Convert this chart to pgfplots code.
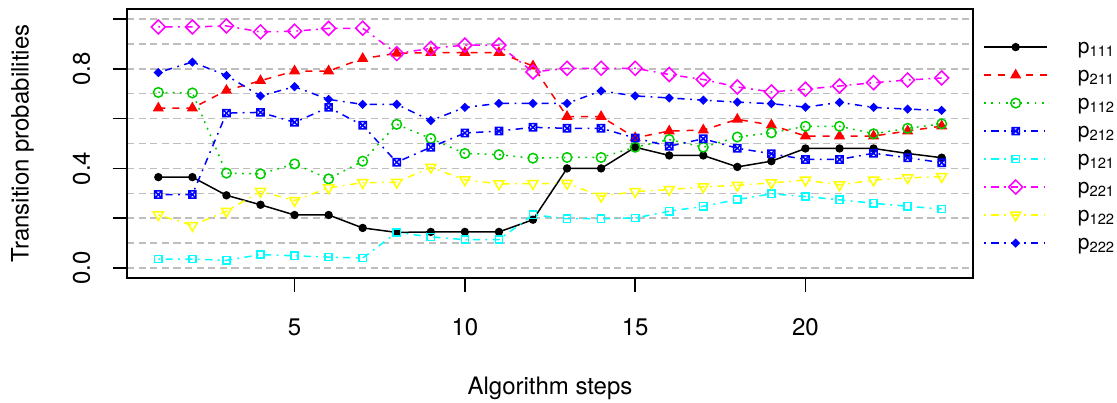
\documentclass[border=0pt]{standalone}
\usepackage{fontspec}
\setmainfont{TeX Gyre Heros}
\usepackage{pgfplots}
\pgfplotsset{compat=1.18}
\usepackage{pgfplotstable}

\definecolor{rgreen}{RGB}{0,205,0}
\definecolor{rcyan}{RGB}{0,255,255}
\definecolor{rmagenta}{RGB}{255,0,255}
\definecolor{ryellow}{RGB}{255,255,0}
\definecolor{rred}{RGB}{255,0,0}
\definecolor{rblue}{RGB}{0,0,255}
\definecolor{gridgray}{RGB}{190,190,190}

\pgfdeclareplotmark{boxtimes}{%
  \pgfpathrectangle{\pgfqpoint{-\pgfplotmarksize}{-\pgfplotmarksize}}{\pgfqpoint{2\pgfplotmarksize}{2\pgfplotmarksize}}%
  \pgfpathmoveto{\pgfqpoint{-\pgfplotmarksize}{-\pgfplotmarksize}}\pgfpathlineto{\pgfqpoint{\pgfplotmarksize}{\pgfplotmarksize}}%
  \pgfpathmoveto{\pgfqpoint{-\pgfplotmarksize}{\pgfplotmarksize}}\pgfpathlineto{\pgfqpoint{\pgfplotmarksize}{-\pgfplotmarksize}}%
  \pgfusepathqstroke}
\pgfdeclareplotmark{rdiamond}{%
  \pgfpathmoveto{\pgfqpoint{0pt}{\pgfplotmarksize}}%
  \pgfpathlineto{\pgfqpoint{\pgfplotmarksize}{0pt}}%
  \pgfpathlineto{\pgfqpoint{0pt}{-\pgfplotmarksize}}%
  \pgfpathlineto{\pgfqpoint{-\pgfplotmarksize}{0pt}}%
  \pgfpathclose\pgfusepathqstroke}
\pgfdeclareplotmark{rdiamond*}{%
  \pgfpathmoveto{\pgfqpoint{0pt}{\pgfplotmarksize}}%
  \pgfpathlineto{\pgfqpoint{\pgfplotmarksize}{0pt}}%
  \pgfpathlineto{\pgfqpoint{0pt}{-\pgfplotmarksize}}%
  \pgfpathlineto{\pgfqpoint{-\pgfplotmarksize}{0pt}}%
  \pgfpathclose\pgfusepathqfillstroke}

\pgfplotstableread{
x p111 p211 p112 p212 p121 p221 p122 p222
1  0.365 0.642 0.705 0.295 0.036 0.968 0.214 0.785
2  0.365 0.642 0.703 0.295 0.036 0.968 0.171 0.827
3  0.292 0.713 0.381 0.622 0.031 0.972 0.228 0.773
4  0.254 0.752 0.378 0.625 0.054 0.948 0.308 0.691
5  0.213 0.791 0.418 0.585 0.049 0.951 0.271 0.728
6  0.213 0.791 0.358 0.645 0.044 0.962 0.322 0.677
7  0.161 0.841 0.429 0.573 0.040 0.963 0.343 0.657
8  0.143 0.862 0.577 0.425 0.143 0.861 0.344 0.657
9  0.145 0.865 0.520 0.485 0.125 0.882 0.405 0.592
10 0.145 0.865 0.460 0.542 0.114 0.895 0.354 0.645
11 0.145 0.865 0.455 0.550 0.114 0.895 0.338 0.661
12 0.194 0.811 0.441 0.565 0.214 0.787 0.339 0.661
13 0.400 0.608 0.444 0.561 0.198 0.802 0.340 0.661
14 0.400 0.608 0.444 0.561 0.198 0.802 0.288 0.711
15 0.485 0.523 0.485 0.522 0.201 0.802 0.307 0.691
16 0.452 0.550 0.516 0.489 0.228 0.777 0.315 0.683
17 0.452 0.554 0.485 0.519 0.248 0.757 0.326 0.674
18 0.406 0.597 0.526 0.481 0.275 0.727 0.332 0.666
19 0.429 0.574 0.543 0.459 0.298 0.707 0.342 0.660
20 0.480 0.530 0.569 0.436 0.287 0.718 0.353 0.646
21 0.480 0.530 0.569 0.436 0.274 0.731 0.334 0.665
22 0.480 0.530 0.539 0.461 0.260 0.744 0.353 0.645
23 0.460 0.550 0.561 0.443 0.248 0.755 0.362 0.638
24 0.443 0.570 0.579 0.423 0.237 0.763 0.367 0.633
}\data

\begin{document}
\begin{tikzpicture}
\begin{axis}[
  at={(0,0)}, anchor=south west,
  scale only axis, width=423pt, height=134.5pt,
  xmin=0.08, xmax=24.92, ymin=-0.04, ymax=1.04,
  xtick={5,10,15,20}, xticklabels={5,10,15,20},
  ytick={0,0.2,0.4,0.6,0.8,1.0},
  yticklabels={0.0,,0.4,,0.8,},
  minor ytick={0.1,0.3,0.5,0.7,0.9},
  minor tick length=0pt,
  tick pos=left, tick align=outside, major tick length=7pt,
  tick style={black, line width=0.8pt},
  axis line style={line width=0.8pt},
  /pgf/number format/assume math mode=true,
  tick label style={font=\fontsize{12}{14}\selectfont},
  xticklabel style={anchor=base}, xticklabel shift=21.5pt,
  yticklabel style={rotate=90, anchor=base}, yticklabel shift=11.5pt,
  ymajorgrids, yminorgrids,
  major grid style={gridgray, line width=0.8pt, dash pattern=on 3.6pt off 2.2pt},
  minor grid style={gridgray, line width=0.8pt, dash pattern=on 3.6pt off 2.2pt},
  label style={font=\fontsize{12}{14}\selectfont},
  xlabel={Algorithm steps},
  ylabel={Transition probabilities},
  xlabel style={at={(axis description cs:0.5,-0.4312)}, anchor=base},
  ylabel style={at={(axis description cs:-0.1162,0.5)}, anchor=base},
  every axis plot/.append style={line width=0.75pt},
  legend image code/.code={\draw[mark repeat=2,mark phase=2] plot coordinates {(0pt,0pt) (15.75pt,0pt) (31.5pt,0pt)};},
  legend style={at={(1,1)}, anchor=north west, xshift=5pt, yshift=-11.85pt,
    draw=none, fill=none, inner sep=0pt, row sep=0pt, column sep=15pt,
    cells={anchor=west},
    nodes={inner sep=0pt, text height=10pt, text depth=4pt, font=\fontsize{10.5}{12}\selectfont}},
]
\addplot[black, solid, mark=*, mark size=1.7pt, mark options={solid, fill=black}] table[x=x, y=p111] {\data};
\addlegendentry{p\textsubscript{111}}
\addplot[rred, dash pattern=on 3.5pt off 3.5pt, mark=triangle*, mark size=2.5pt, mark options={solid, fill=rred}] table[x=x, y=p211] {\data};
\addlegendentry{p\textsubscript{211}}
\addplot[rgreen, dash pattern=on 0.9pt off 2.7pt, mark=o, mark size=2.4pt, mark options={solid}] table[x=x, y=p112] {\data};
\addlegendentry{p\textsubscript{112}}
\addplot[rblue, dash pattern=on 0.9pt off 2.7pt on 3.6pt off 2.7pt, mark=boxtimes, mark size=1.8pt, mark options={solid}] table[x=x, y=p212] {\data};
\addlegendentry{p\textsubscript{212}}
\addplot[rcyan, dash pattern=on 0.9pt off 2.7pt on 3.6pt off 2.7pt, mark=square, mark size=1.8pt, mark options={solid}] table[x=x, y=p121] {\data};
\addlegendentry{p\textsubscript{121}}
\addplot[rmagenta, dash pattern=on 0.9pt off 2.7pt on 3.6pt off 2.7pt, mark=rdiamond, mark size=3.5pt, mark options={solid}] table[x=x, y=p221] {\data};
\addlegendentry{p\textsubscript{221}}
\addplot[ryellow, dash pattern=on 0.9pt off 2.7pt on 3.6pt off 2.7pt, mark=triangle, mark size=2.9pt, mark options={solid, rotate=180}] table[x=x, y=p122] {\data};
\addlegendentry{p\textsubscript{122}}
\addplot[rblue, dash pattern=on 0.9pt off 2.7pt on 3.6pt off 2.7pt, mark=rdiamond*, mark size=1.8pt, mark options={solid, fill=rblue}] table[x=x, y=p222] {\data};
\addlegendentry{p\textsubscript{222}}
\end{axis}
\pgfresetboundingbox
\path[use as bounding box] (-63.5pt,-62pt) rectangle (495pt,139pt);
\end{tikzpicture}
\end{document}
